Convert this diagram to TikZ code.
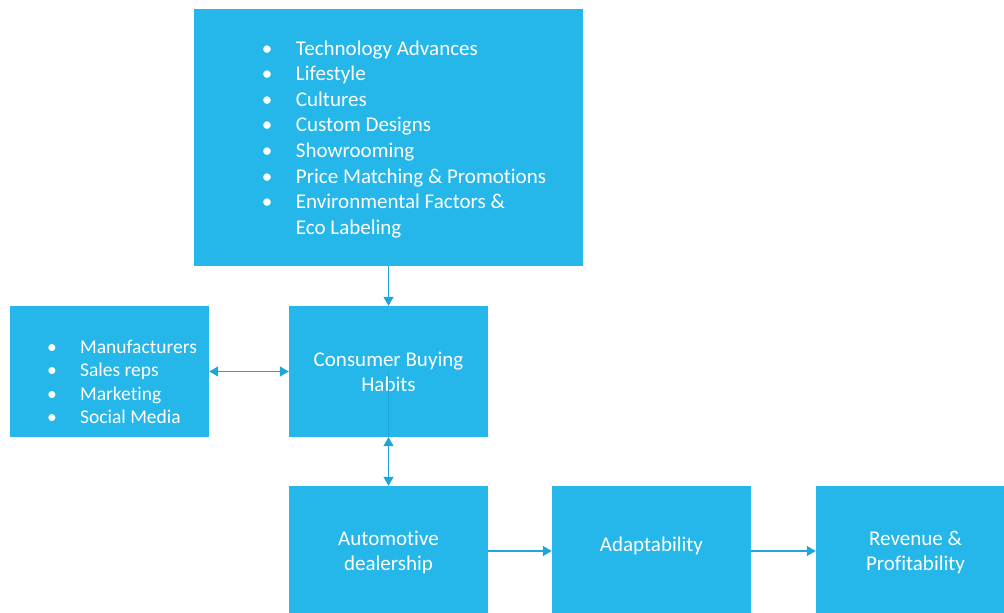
\documentclass[tikz,border=0pt]{standalone}
\usepackage{fontspec}
\setmainfont{Carlito}[Ligatures={NoCommon}]
\usetikzlibrary{arrows.meta}
\definecolor{boxblue}{HTML}{25B7E9}
\definecolor{linkblue}{HTML}{1FA5DA}

\begin{document}
\begin{tikzpicture}
[
    x=1pt, y=1pt,
    box/.style={rectangle,fill=boxblue,inner sep=0pt,minimum width=199pt,minimum height=131pt,text=white,align=center,font=\fontsize{21}{25}\selectfont},
    bulletlist/.style={text=white,inner sep=0pt},
    link/.style={linkblue,line width=1.2pt,-{Triangle[length=9pt,width=10pt]}},
    dlink/.style={linkblue,line width=1.2pt,{Triangle[length=9pt,width=10pt]}-{Triangle[length=9pt,width=10pt]}},
]

\useasboundingbox (0,0) rectangle (1004,613);
\clip (0,0) rectangle (1004,613);

% boxes
\node (trends) at (388.5,475.5) [box,minimum width=389pt,minimum height=257pt] {};
\node (sources) at (109.5,241.5) [box] {};
\node (habits) at (388.5,241.5) [box] {Consumer Buying\\Habits};
\node (dealer) at (388.5,62) [box,minimum height=130pt,text depth=-8pt] {Automotive\\dealership};
\node (adapt) at (651.5,62) [box,minimum height=130pt,text height=14pt,text depth=12pt] {Adaptability};
\node (revenue) at (915.5,62) [box,minimum height=130pt,text depth=-8pt] {Revenue \&\\Profitability};

% bullet lists
\node (trendlist) at (trends.center) [bulletlist,xshift=15.5pt,yshift=-2pt] {\fontsize{21}{25.6}\selectfont
\begin{tabular}{@{}p{34pt}@{}l@{}}
\textbullet & Technology Advances\\
\textbullet & Lifestyle\\
\textbullet & Cultures\\
\textbullet & Custom Designs\\
\textbullet & Showrooming\\
\textbullet & Price Matching \& Promotions\\
\textbullet & Environmental Factors \&\\
 & Eco Labeling
\end{tabular}};
\node (sourcelist) at (sources.center) [bulletlist,xshift=12.5pt,yshift=-12.5pt] {\fontsize{19.5}{23.4}\selectfont
\begin{tabular}{@{}p{33pt}@{}l@{}}
\textbullet & Manufacturers\\
\textbullet & Sales reps\\
\textbullet & Marketing\\
\textbullet & Social Media
\end{tabular}};

% connectors
\draw[link] (trends.south) -- (habits.north);
\draw[dlink] (sources.east) -- (habits.west);
\draw[linkblue,line width=0.8pt] (habits.center) -- (habits.south);
\draw[dlink] (habits.south) -- (dealer.north);
\draw[link] (dealer.east) -- (adapt.west);
\draw[link] (adapt.east) -- (revenue.west);
\end{tikzpicture}
\end{document}
